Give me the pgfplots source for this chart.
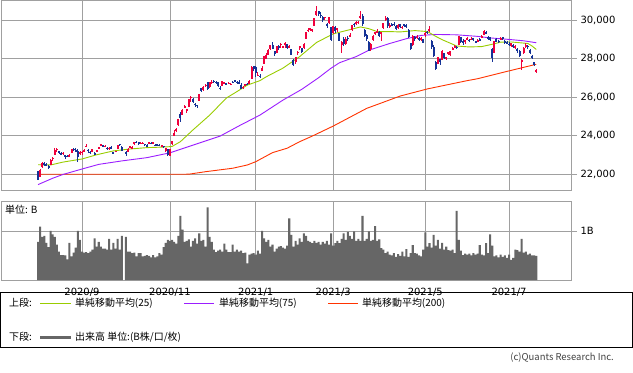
\documentclass[border=0pt]{standalone}
\usepackage{pgfplots}
\usepackage{pgfplotstable}
\pgfplotsset{compat=1.18}
\usepackage{fontspec}
\setmainfont{DejaVu Sans}
\newfontfamily\jp{Noto Sans CJK JP}
\definecolor{cred}{RGB}{240,0,60}
\definecolor{cblue}{RGB}{20,50,150}
\definecolor{gridgray}{RGB}{160,160,160}
\definecolor{maA}{RGB}{153,204,0}
\definecolor{maB}{RGB}{155,30,255}
\definecolor{maC}{RGB}{255,51,0}
\definecolor{volgray}{RGB}{102,102,102}

\pgfplotstableread{
i o h l c
0 22140 22150 21710 21710
1 21870 22270 21830 22195
2 22360 22620 22330 22573
3 22550 22600 22440 22514
4 22540 22560 22400 22418
5 22430 22450 22250 22329
6 22480 22780 22470 22750
7 22800 22880 22690 22843
8 23000 23340 22990 23249
9 23260 23340 23160 23289
10 23200 23220 23030 23096
11 23070 23120 22980 23051
12 23030 23150 23000 23110
13 22990 23010 22800 22880
14 22960 23000 22860 22920
15 22930 23030 22890 22985
16 23100 23320 23080 23296
17 23300 23340 23220 23290
18 23230 23330 23180 23208
19 23220 23290 22620 22882
20 23080 23180 22980 23139
21 23100 23200 22990 23138
22 23150 23300 23120 23247
23 23410 23580 23390 23465
24 23240 23300 23110 23205
25 23160 23190 23050 23089
26 23160 23300 23140 23274
27 23090 23130 22990 23032
28 23150 23260 23120 23235
29 23300 23420 23280 23406
30 23450 23580 23430 23559
31 23500 23520 23400 23454
32 23440 23530 23420 23475
33 23360 23380 23260 23319
34 23330 23400 23270 23360
35 23400 23430 23310 23346
36 23120 23160 23040 23087
37 23160 23220 23120 23204
38 23290 23530 23290 23511
39 23560 23570 23460 23539
40 23420 23440 23180 23185
42 23150 23170 22960 23029
43 23150 23330 23120 23312
44 23380 23470 23350 23433
45 23330 23440 23310 23422
46 23540 23650 23520 23647
47 23680 23700 23600 23619
48 23660 23670 23530 23558
49 23570 23660 23560 23601
50 23580 23650 23540 23626
51 23560 23580 23460 23507
52 23510 23540 23390 23410
53 23590 23680 23560 23671
54 23620 23650 23540 23567
55 23580 23650 23540 23639
56 23530 23560 23430 23474
57 23540 23580 23500 23516
58 23520 23560 23450 23494
59 23420 23500 23380 23485
60 23470 23480 23370 23418
61 23180 23370 23140 23331
62 23280 23300 22950 22977
63 22950 23300 22950 23295
64 23560 23720 23510 23695
65 24000 24280 23950 24105
66 24280 24400 24170 24325
67 24520 24840 24500 24839
68 25100 25200 24700 24905
69 25090 25360 25060 25349
70 25480 25560 25420 25520
71 25300 25390 25170 25385
72 25500 25910 25480 25906
73 25950 26060 25750 26014
74 25900 25970 25700 25728
75 25660 25700 25500 25634
76 25600 25600 25450 25527
77 25800 26170 25780 26165
78 26450 26490 26250 26296
79 26340 26560 26320 26537
80 26580 26700 26510 26644
81 26760 26790 26340 26433
82 26520 26800 26490 26787
83 26760 26860 26700 26800
84 26840 26870 26740 26809
85 26800 26840 26700 26751
86 26780 26800 26540 26547
87 26480 26560 26380 26467
88 26560 26830 26560 26817
89 26700 26780 26680 26756
90 26720 26740 26620 26652
91 26700 26790 26690 26732
92 26680 26720 26600 26687
93 26790 26810 26720 26757
94 26860 26890 26790 26806
95 26800 26840 26700 26763
96 26790 26900 26700 26714
97 26640 26720 26420 26436
98 26480 26580 26430 26524
99 26550 26700 26550 26668
100 26700 26710 26620 26656
101 26690 26860 26680 26854
102 26940 27600 26940 27568
103 27620 27620 27340 27444
104 27580 27600 27050 27258
105 27120 27280 27070 27158
106 27100 27200 27000 27055
107 27340 27600 27340 27490
108 27720 28140 27700 28139
109 28000 28290 27980 28164
110 28200 28500 28200 28456
111 28480 28700 28430 28698
112 28700 28850 28500 28519
113 28370 28400 28130 28242
114 28300 28650 28270 28633
115 28650 28690 28460 28523
116 28700 28800 28550 28756
117 28600 28660 28540 28631
118 28680 28860 28550 28822
119 28750 28760 28500 28546
120 28610 28700 28570 28635
121 28470 28500 28200 28197
122 27900 28000 27630 27663
123 27830 28100 27740 28091
124 28320 28400 28200 28362
125 28520 28650 28450 28646
126 28540 28570 28300 28341
127 28560 28800 28500 28779
128 29000 29400 28990 29388
129 29480 29590 29390 29505
130 29510 29600 29450 29562
131 29490 29540 29370 29520
132 29700 30100 29700 30084
133 30240 30714 30220 30467
134 30460 30480 30200 30292
135 30270 30390 30130 30236
136 30150 30200 29900 30017
137 30110 30170 30000 30156
138 29800 29860 29570 29671
139 29830 30170 29800 30168
140 29650 29650 28930 28966
141 29300 29680 29250 29664
142 29620 29690 29300 29408
143 29480 29600 29400 29559
144 29330 29350 28900 28930
145 28680 28930 28300 28864
146 29000 29100 28640 28743
147 28760 29100 28700 29028
148 29070 29150 28900 29036
149 29150 29300 29150 29211
150 29470 29720 29450 29717
151 29800 29830 29650 29766
152 29800 29950 29750 29921
153 29850 29950 29800 29914
154 30100 30480 30050 30216
155 30220 30300 29700 29792
156 29500 29520 29100 29174
157 29200 29280 28900 28995
158 28850 28900 28380 28405
159 28500 28800 28400 28729
160 28950 29200 28900 29176
161 29300 29400 29200 29384
162 29350 29530 29300 29432
163 29400 29420 29120 29178
164 29250 29400 28900 29388
165 29600 29870 29550 29854
166 30000 30200 29950 30089
167 30100 30150 29600 29696
168 29690 29860 29600 29730
169 29800 29860 29680 29708
170 29800 29900 29690 29768
171 29700 29750 29500 29538
172 29600 29770 29550 29751
173 29780 29800 29600 29620
174 29600 29700 29550 29642
175 29770 29800 29650 29683
176 29720 29770 29600 29685
177 29500 29520 29050 29100
178 28800 28820 28420 28508
179 28700 29200 28650 29188
180 29100 29150 28900 29020
181 29100 29200 29000 29126
182 29050 29100 28900 28991
183 28950 29100 28900 29053
184 29000 29030 28800 28812
185 29200 29360 29100 29331
186 29400 29420 29250 29357
187 29480 29680 29400 29518
188 28900 28950 28500 28608
189 28600 28700 28100 28147
190 27800 27850 27380 27448
191 27720 28100 27700 28084
192 27950 28000 27680 27824
193 27900 28420 27900 28406
194 28300 28310 28000 28044
195 27950 28100 27900 28098
196 28230 28350 28200 28317
197 28200 28400 28150 28364
198 28450 28600 28420 28553
199 28580 28700 28550 28642
200 28600 28650 28500 28549
201 28700 29170 28680 29149
202 29100 29120 28800 28860
203 28900 29000 28700 28814
204 28850 28980 28750 28946
205 29000 29100 28950 29058
206 28980 29000 28850 28941
207 29000 29100 28950 29019
208 29050 29080 28900 28963
209 28900 28920 28800 28860
210 28900 29000 28880 28958
211 29000 29050 28900 28948
212 29100 29200 29050 29161
213 29200 29480 29200 29441
214 29400 29420 29250 29291
215 29100 29150 28950 29018
216 29100 29120 28900 28964
217 28500 28550 27795 28010
218 28300 28900 28300 28884
219 29000 29050 28850 28874
220 28900 28950 28800 28875
221 29000 29100 28950 29066
222 29100 29120 28950 29048
223 28900 28950 28750 28812
224 28850 28900 28750 28791
225 28750 28850 28650 28707
226 28650 28800 28600 28783
227 28700 28750 28550 28598
228 28600 28700 28500 28643
229 28500 28550 28300 28366
230 28400 28420 28100 28118
231 27800 28000 27420 27940
232 28300 28600 28250 28569
233 28600 28800 28550 28718
234 28650 28700 28500 28608
235 28450 28500 28250 28279
236 28150 28200 27950 28003
237 27800 27830 27600 27652
238 27350 27450 27270 27388
}\candles

\pgfplotstableread{
i v
0 0.78
1 1.09
2 0.88
3 0.90
4 0.76
5 0.67
6 1.00
7 0.93
8 0.88
9 0.72
10 0.58
11 0.51
12 0.51
13 0.50
14 0.42
15 0.76
16 0.48
17 0.56
18 0.66
19 1.00
20 0.82
21 0.58
22 0.56
23 0.57
24 0.55
25 0.58
26 0.62
27 0.85
28 0.68
29 0.78
30 0.68
31 0.64
32 0.64
33 0.62
34 0.84
35 0.62
36 0.76
37 0.64
38 0.84
39 0.62
40 0.90
42 0.88
43 0.58
44 0.58
45 0.55
46 0.56
47 0.48
48 0.55
49 0.55
50 0.48
51 0.49
52 0.51
53 0.49
54 0.46
55 0.51
56 0.46
57 0.48
58 0.55
59 0.52
60 0.67
61 0.76
62 0.82
63 0.80
64 0.82
65 0.78
66 0.74
67 0.90
68 1.31
69 1.03
70 0.78
71 0.80
72 0.83
73 0.68
74 0.80
75 0.85
76 0.74
77 0.95
78 0.80
79 0.82
80 0.68
81 1.48
82 0.88
83 0.78
84 0.62
85 0.57
86 0.60
87 0.62
88 0.58
89 0.74
90 0.62
91 0.57
92 0.57
93 0.72
94 0.58
95 0.62
96 0.58
97 0.60
98 0.55
99 0.56
100 0.34
101 0.52
102 0.54
103 0.55
104 0.52
105 0.60
106 0.54
107 1.00
108 0.85
109 0.78
110 0.82
111 0.68
112 0.72
113 0.58
114 0.64
115 0.68
116 0.69
117 0.66
118 0.64
119 0.70
120 1.26
121 0.92
122 0.68
123 0.80
124 0.72
125 0.85
126 0.78
127 0.95
128 0.90
129 0.80
130 0.78
131 0.75
132 0.80
133 0.76
134 0.78
135 0.72
136 0.78
137 0.74
138 0.80
139 0.72
140 0.95
141 0.70
142 0.75
143 0.80
144 0.75
145 0.84
146 0.95
147 0.82
148 0.98
149 0.90
150 0.84
151 0.99
152 0.80
153 0.84
154 0.80
155 1.31
156 0.80
157 0.84
158 0.99
159 0.80
160 0.82
161 1.10
162 0.80
163 0.83
164 0.65
165 0.62
166 0.55
167 0.58
168 0.52
169 0.50
170 0.55
171 0.47
172 0.53
173 0.49
174 0.58
175 0.48
176 0.63
177 0.47
178 0.55
179 0.71
180 0.55
181 0.54
182 0.50
183 0.48
184 0.62
185 0.97
186 0.68
187 0.75
188 0.66
189 0.92
190 0.70
191 0.82
192 0.64
193 0.76
194 0.62
195 0.68
196 0.61
197 0.60
198 0.62
199 0.55
200 1.41
201 0.82
202 0.60
203 0.51
204 0.54
205 0.52
206 0.54
207 0.50
208 0.55
209 0.52
210 0.54
211 0.71
212 0.52
213 0.50
214 0.75
215 0.55
216 0.93
217 0.70
218 0.48
219 0.50
220 0.46
221 0.52
222 0.47
223 0.50
224 0.45
225 0.52
226 0.41
227 0.45
228 0.62
229 0.61
230 0.58
231 0.84
232 0.56
233 0.58
234 0.52
235 0.54
236 0.50
237 0.50
238 0.49
}\vol

\pgfplotsset{
  panel/.style={
    scale only axis, width=570bp,
    xmin=-17.7, xmax=254.6,
    axis line style={draw=gridgray, line width=0.8bp},
    grid=major, grid style={draw=gridgray, line width=0.8bp},
    xtick={21,63,104,141,185,225},
    xtick style={draw=none},
    ytick pos=right, yticklabel pos=right,
    tick align=outside,
    ytick style={draw=gridgray, line width=0.8bp},
    major tick length=6bp,
    tick label style={font=\fontsize{10}{12}\selectfont},
    /pgf/number format/assume math mode=true,
  }
}

\begin{document}
\begin{tikzpicture}
\path[use as bounding box] (0,0) rectangle (633bp,-373bp);

% upper panel
\begin{axis}[panel, at={(1bp,-190bp)}, anchor=south west, height=190bp,
  ymin=21169, ymax=31039,
  ytick={22000,24000,26000,28000,30000},
  scaled y ticks=false,
  yticklabel style={/pgf/number format/.cd, 1000 sep={,}},
  xticklabels={,,,,,},
  ]
  \addplot[maC, line width=0.9bp] coordinates {(0,21985) (72,21990) (80,22120) (93,22300) (100,22470) (104,22640) (112,23110) (119,23340) (125,23680) (131,23970) (141,24490) (157,25410) (173,26050) (186,26420) (205,26850) (210,26950) (224,27330) (238,27700)};
  \addplot[maB, line width=0.9bp] coordinates {(0,21450) (7,21780) (12,21980) (21,22260) (29,22500) (40,22680) (52,22850) (63,23100) (74,23500) (87,23970) (96,24500) (106,25060) (117,25840) (126,26400) (134,27000) (140,27500) (144,27780) (152,28100) (158,28430) (168,28780) (176,29030) (183,29200) (190,29250) (200,29230) (210,29150) (216,29070) (224,29000) (232,28920) (238,28820)};
  \addplot[maA, line width=0.9bp] coordinates {(0,22480) (6,22470) (12,22620) (21,22780) (28,23000) (36,23200) (44,23300) (52,23370) (60,23400) (64,23430) (68,23680) (74,24290) (82,25060) (90,25950) (95,26280) (100,26620) (106,26850) (109,27050) (117,27500) (125,28100) (133,28830) (141,29280) (149,29500) (154,29640) (158,29550) (162,29400) (168,29400) (173,29380) (180,29450) (186,29400) (190,29150) (193,28980) (200,28650) (206,28600) (212,28620) (217,28740) (221,28850) (226,28860) (230,28820) (234,28780) (236,28650) (238,28470)};
  % up candles
  \addplot[draw=none, mark=none, restrict expr to domain={\thisrow{c}-\thisrow{o}}{0:100000},
    error bars/.cd, y dir=both, y explicit, error mark=none,
    error bar style={draw=cred, line width=0.8bp}]
    table[x=i, y expr={(\thisrow{h}+\thisrow{l})/2}, y error expr={(\thisrow{h}-\thisrow{l})/2}] {\candles};
  \addplot[draw=none, mark=none, restrict expr to domain={\thisrow{c}-\thisrow{o}}{0:100000},
    error bars/.cd, y dir=both, y explicit, error mark=none,
    error bar style={draw=cred, line width=2bp}]
    table[x=i, y expr={(\thisrow{o}+\thisrow{c})/2}, y error expr={max(abs(\thisrow{c}-\thisrow{o})/2,14)}] {\candles};
  % down candles
  \addplot[draw=none, mark=none, restrict expr to domain={\thisrow{c}-\thisrow{o}}{-100000:-0.5},
    error bars/.cd, y dir=both, y explicit, error mark=none,
    error bar style={draw=cblue, line width=0.8bp}]
    table[x=i, y expr={(\thisrow{h}+\thisrow{l})/2}, y error expr={(\thisrow{h}-\thisrow{l})/2}] {\candles};
  \addplot[draw=none, mark=none, restrict expr to domain={\thisrow{c}-\thisrow{o}}{-100000:-0.5},
    error bars/.cd, y dir=both, y explicit, error mark=none,
    error bar style={draw=cblue, line width=2bp}]
    table[x=i, y expr={(\thisrow{o}+\thisrow{c})/2}, y error expr={max(abs(\thisrow{c}-\thisrow{o})/2,14)}] {\candles};
\end{axis}

% lower panel
\begin{axis}[panel, at={(1bp,-280bp)}, anchor=south west, height=79bp,
  ymin=0, ymax=1.612,
  ytick={1}, yticklabels={1B},
  xticklabels={2020/9,2020/11,2021/1,2021/3,2021/5,2021/7},
  xticklabel style={yshift=1bp},
  ]
  \addplot[ybar, bar width=0.97, fill=volgray, draw=none] table[x=i, y=v] {\vol};
\end{axis}
\node[anchor=west, inner sep=0, font=\jp\fontsize{10}{12}\selectfont] at (5bp,-210bp) {単位: B};

% legend box
\draw[black, line width=0.9bp] (0.5bp,-292.5bp) rectangle (632.5bp,-347.5bp);
\begin{scope}[every node/.style={anchor=west, inner sep=0, font=\jp\fontsize{10}{12}\selectfont}]
  \node at (9bp,-303bp) {上段:};
  \draw[maA, line width=0.9bp] (40bp,-303bp) -- (71bp,-303bp);
  \node at (75bp,-303bp) {単純移動平均(25)};
  \draw[maB, line width=0.9bp] (184bp,-303bp) -- (214bp,-303bp);
  \node at (219bp,-303bp) {単純移動平均(75)};
  \draw[maC, line width=0.9bp] (328bp,-303bp) -- (358bp,-303bp);
  \node at (362bp,-303bp) {単純移動平均(200)};
  \node at (9bp,-337bp) {下段:};
  \draw[volgray, line width=3bp] (40bp,-337bp) -- (71bp,-337bp);
  \node at (75bp,-337bp) {出来高 単位:(B株/口/枚)};
\end{scope}
\node[anchor=east, inner sep=0, font=\jp\fontsize{9.5}{11}\selectfont, text=black!75] at (614bp,-358bp) {(c)Quants Research Inc.};
\end{tikzpicture}
\end{document}
